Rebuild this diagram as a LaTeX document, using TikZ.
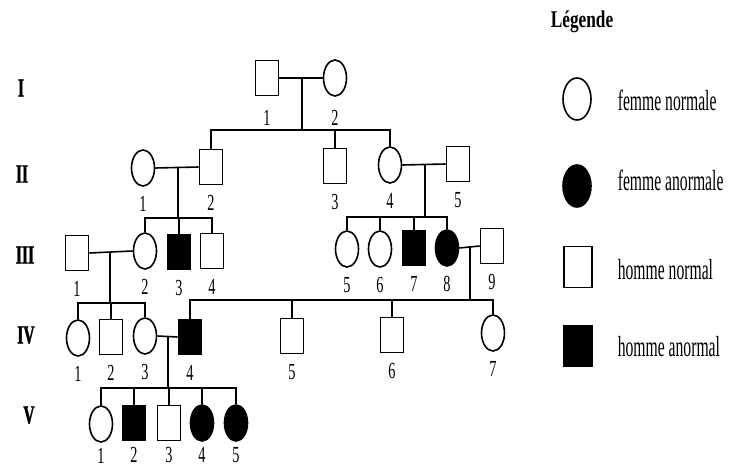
\documentclass[tikz,border=0pt]{standalone}
\usepackage{fontspec}
\setmainfont{Liberation Serif}
\newfontfamily\numfont{Liberation Serif}[FakeStretch=0.62]
\newfontfamily\genfont{Liberation Serif}[FakeStretch=0.6,BoldFeatures={FakeBold=1.5}]
\newfontfamily\titlefont{Liberation Serif}[FakeStretch=0.72]
\newfontfamily\legfont{Liberation Serif}[FakeStretch=0.54]
\usetikzlibrary{shapes.geometric,calc}
\begin{document}
\begin{tikzpicture}[x=1pt,y=-1pt,
  line width=1.6pt,
  male/.style={rectangle,draw,minimum width=23pt,minimum height=35pt,inner sep=0pt,line width=1.6pt},
  female/.style={ellipse,draw,minimum width=23pt,minimum height=36pt,inner sep=0pt,line width=1.6pt},
  sick/.style={fill=black},
  lmale/.style={male,minimum width=28pt,minimum height=41pt},
  lfemale/.style={female,minimum width=28pt,minimum height=42pt},
  num/.style={font=\numfont\fontsize{23}{23}\selectfont,inner sep=0pt},
  gen/.style={font=\genfont\bfseries\fontsize{26}{26}\selectfont,inner sep=0pt},
  leg/.style={font=\legfont\fontsize{29}{29}\selectfont,anchor=west,inner sep=0pt},
]
\useasboundingbox[fill=white] (0,0) rectangle (745,470);

% generation numbers
\node[gen] (gI)   at (21,88)  {I};
\node[gen] (gII)  at (22,174) {II};
\node[gen] (gIII) at (25,255) {III};
\node[gen] (gIV)  at (26,335) {IV};
\node[gen] (gV)   at (29,415) {V};

% generation I
\node[male]   (I1) at (267,78) {};
\node[female] (I2) at (335,78) {};

% generation II
\node[female] (II1) at (143,168) {};
\node[male]   (II2) at (211,167) {};
\node[male]   (II3) at (335,166) {};
\node[female] (II4) at (390,165) {};
\node[male]   (II5) at (458,164) {};

% generation III
\node[male]        (III1) at (77,253)  {};
\node[female]      (III2) at (145,251) {};
\node[male,sick]   (III3) at (179,252) {};
\node[male]        (III4) at (212,251) {};
\node[female]      (III5) at (347,249) {};
\node[female]      (III6) at (380,249) {};
\node[male,sick]   (III7) at (414,248) {};
\node[female,sick] (III8) at (447,248) {};
\node[male]        (III9) at (492,246) {};

% generation IV
\node[female]    (IV1) at (78,338)  {};
\node[male]      (IV2) at (111,337) {};
\node[female]    (IV3) at (145,336) {};
\node[male,sick] (IV4) at (190,337) {};
\node[male]      (IV5) at (292,336) {};
\node[male]      (IV6) at (392,335) {};
\node[female]    (IV7) at (493,333) {};

% generation V
\node[female]      (V1) at (101,424) {};
\node[male,sick]   (V2) at (134,423) {};
\node[male]        (V3) at (169,423) {};
\node[female,sick] (V4) at (202,423) {};
\node[female,sick] (V5) at (236,423) {};

% individual numbers
\foreach \n/\k in {I1/1,I2/2}
  \node[num] (n\n) at ($(\n)+(0,40)$) {\k};
\foreach \n/\k in {II1/1,II2/2,II3/3,II4/4,II5/5}
  \node[num] (n\n) at ($(\n)+(0,36)$) {\k};
\foreach \n/\k in {III1/1,III2/2,III3/3,III4/4,III5/5,III6/6,III7/7,III8/8,III9/9}
  \node[num] (n\n) at ($(\n)+(0,36)$) {\k};
\foreach \n/\k in {IV1/1,IV2/2,IV3/3,IV4/4,IV5/5,IV6/6,IV7/7}
  \node[num] (n\n) at ($(\n)+(0,36)$) {\k};
\foreach \n/\k in {V1/1,V2/2,V3/3,V4/4,V5/5}
  \node[num] (n\n) at ($(\n)+(0,32)$) {\k};

% couples and descent points
\coordinate (cI)   at (302,78);
\coordinate (sII)  at (302,130);
\coordinate (cIIa) at (178,168);
\coordinate (sIIIa) at (178,218);
\coordinate (cIIb) at (425,164);
\coordinate (sIIIb) at (425,217);
\coordinate (cIIIa) at (110,252);
\coordinate (sIVa) at (110,303);
\coordinate (cIIIb) at (470,247);
\coordinate (sIVb) at (470,300);
\coordinate (cIV)  at (168,337);
\coordinate (sV)   at (168,388);

% I
\draw (I1.east) -- (I2.west);
\draw (cI) -- (sII);
\draw (II2.north) |- (sII) -| (II4.north);
\draw (II3.north) -- (II3.north |- sII);

% II
\draw (II1.east) -- (II2.west);
\draw (cIIa) -- (sIIIa);
\draw (III2.north) |- (sIIIa) -| (III4.north);
\draw (III3.north) -- (III3.north |- sIIIa);
\draw (II4.east) -- (II5.west);
\draw (cIIb) -- (sIIIb);
\draw (III5.north) |- (sIIIb) -| (III8.north);
\draw (III6.north) -- (III6.north |- sIIIb);
\draw (III7.north) -- (III7.north |- sIIIb);

% III
\draw (III1.east) -- (III2.west);
\draw (cIIIa) -- (sIVa);
\draw (IV1.north) |- (sIVa) -| (IV3.north);
\draw (IV2.north) -- (IV2.north |- sIVa);
\draw (III8.east) -- (III9.west);
\draw (cIIIb) -- (sIVb);
\draw (IV4.north) |- (sIVb) -| (IV7.north);
\draw (IV5.north) -- (IV5.north |- sIVb);
\draw (IV6.north) -- (IV6.north |- sIVb);

% IV
\draw (IV3.east) -- (IV4.west);
\draw (cIV) -- (sV);
\draw (V1.north) |- (sV) -| (V5.north);
\draw (V2.north) -- (V2.north |- sV);
\draw (V3.north) -- (V3.north |- sV);
\draw (V4.north) -- (V4.north |- sV);

% legend
\node[font=\titlefont\bfseries\fontsize{24}{24}\selectfont,inner sep=0pt] (legtitle) at (582,22) {Légende};
\node[lfemale]      (lf)  at (577,99)  {};
\node[lfemale,sick] (lfa) at (577,186) {};
\node[lmale]        (lm)  at (578,267) {};
\node[lmale,sick]   (lma) at (578,346) {};
\node[leg] (tf)  at (617,100) {femme normale};
\node[leg] (tfa) at (617,180) {femme anormale};
\node[leg] (tm)  at (617,270) {homme normal};
\node[leg] (tma) at (617,347) {homme anormal};
\end{tikzpicture}
\end{document}
